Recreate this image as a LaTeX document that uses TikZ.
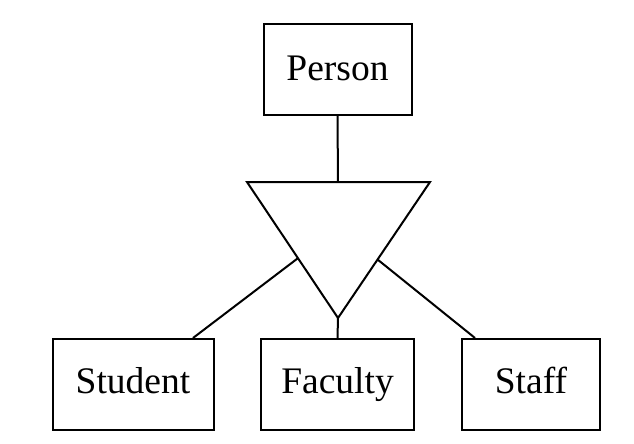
\documentclass[tikz,border=0pt]{standalone}
\usepackage{fontspec}
\setmainfont{Liberation Serif}
\usetikzlibrary{calc}
\begin{document}
\begin{tikzpicture}[x=1pt,y=-1pt,
  ent/.style={draw, line width=2pt, inner sep=0pt, text height=25pt, text depth=7pt, font=\fontsize{37.5}{44}\selectfont},
  conn/.style={line width=2pt}]
\useasboundingbox (0,0) rectangle (634,444);
\node[ent, minimum width=148pt, minimum height=91pt, text depth=2pt] (person) at (337.5,69.5) {Person};
\node[ent, minimum width=161pt, minimum height=91pt] (student) at (133,384.5) {Student};
\node[ent, minimum width=153pt, minimum height=91pt] (faculty) at (337.5,384.5) {Faculty};
\node[ent, minimum width=138pt, minimum height=91pt] (staff) at (531,384.5) {Staff};
\coordinate (tl) at (247,182);
\coordinate (tr) at (430,182);
\coordinate (ap) at (338,318);
\coordinate (tt) at (338,182);
\draw[conn, line join=miter] (tl) -- (tr) -- (ap) -- cycle;
\coordinate (le) at ($(tl)!0.56!(ap)$);
\coordinate (re) at ($(tr)!0.57!(ap)$);
\draw[conn] (person.south) -- (tt);
\draw[conn] (le) -- (student.north -| 193,0);
\draw[conn] (ap) -- (faculty.north);
\draw[conn] (re) -- (staff.north -| 475,0);
\end{tikzpicture}
\end{document}
